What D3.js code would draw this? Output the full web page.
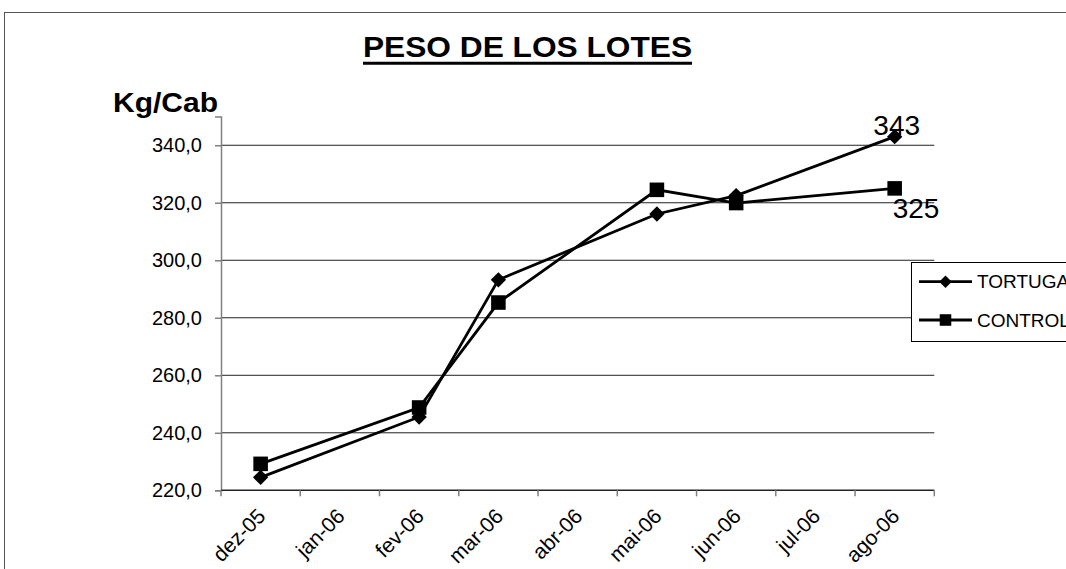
<!DOCTYPE html>
<html>
<head>
<meta charset="utf-8">
<script src="https://cdn.jsdelivr.net/npm/d3@7"></script>
<style>
  body { margin: 0; background: #fff; }
  svg { display: block; font-family: "Liberation Sans", Arial, sans-serif; }
</style>
</head>
<body>
<div id="chart"></div>
<script>
// months on the category axis
var months = ["dez-05", "jan-06", "fev-06", "mar-06", "abr-06", "mai-06", "jun-06", "jul-06", "ago-06"];
// months where the lots were weighed
var weighMonths = ["dez-05", "fev-06", "mar-06", "mai-06", "jun-06", "ago-06"];
var tortuga = [224.5, 245.5, 293.2, 316.1, 322.5, 343];
var control = [229.2, 248.8, 285.3, 324.5, 319.9, 325];
var seriesNames = ["TORTUGA", "CONTROL"];
var yTicks = [220, 240, 260, 280, 300, 320, 340];

var width = 1066;
var height = 569;
var plot = { left: 221, right: 934.3, top: 116.5, bottom: 490.3 };

var svg = d3.select('#chart')
    .append('svg')
    .attr('width', width)
    .attr('height', height);

// outer frame (runs off the right and bottom edges)
svg.append('rect')
    .attr('x', 4.5).attr('y', 12.5)
    .attr('width', 1200).attr('height', 700)
    .attr('fill', 'none')
    .attr('stroke', '#555')
    .attr('stroke-width', 1);

var xScale = d3.scaleBand()
    .domain(months)
    .range([plot.left, plot.right])
    .padding(0);

var yScale = d3.scaleLinear()
    .domain([220, 350])
    .range([plot.bottom, plot.top]);

var locale = d3.formatLocale({ decimal: ",", thousands: ".", grouping: [3], currency: ["", ""] });
var fmt = locale.format(".1f");

// gridlines
svg.append('g')
    .selectAll('line')
    .data(yTicks.slice(1))
    .enter().append('line')
    .attr('x1', plot.left).attr('x2', plot.right)
    .attr('y1', function(d) { return yScale(d); })
    .attr('y2', function(d) { return yScale(d); })
    .attr('stroke', '#222')
    .attr('stroke-width', 1);

// y axis
var yAxis = d3.axisLeft(yScale)
    .tickValues(yTicks)
    .tickFormat(fmt)
    .tickSize(6)
    .tickPadding(13);

var gy = svg.append('g')
    .attr('transform', 'translate(' + plot.left + ',0)')
    .call(yAxis);
gy.select('.domain').attr('stroke', '#808080').attr('stroke-width', 1.5);
gy.selectAll('.tick line').attr('stroke', '#808080').attr('stroke-width', 1.5);
gy.selectAll('.tick text')
    .attr('font-size', 20)
    .attr('font-family', '"Liberation Sans", Arial, sans-serif')
    .attr('fill', '#000');

// x axis: ticks at the month boundaries, labels at the centres
var bounds = months.map(function(m) { return xScale(m); }).concat([plot.right]);
var gx = svg.append('g');
gx.append('line')
    .attr('x1', plot.left).attr('x2', plot.right)
    .attr('y1', plot.bottom).attr('y2', plot.bottom)
    .attr('stroke', '#222').attr('stroke-width', 1.5);
gx.selectAll('line.tk')
    .data(bounds)
    .enter().append('line')
    .attr('class', 'tk')
    .attr('x1', function(d) { return d; }).attr('x2', function(d) { return d; })
    .attr('y1', plot.bottom).attr('y2', plot.bottom + 6)
    .attr('stroke', '#808080').attr('stroke-width', 1.5);
gx.selectAll('text')
    .data(months)
    .enter().append('text')
    .attr('transform', function(d) {
        var cx = xScale(d) + xScale.bandwidth() / 2;
        return 'translate(' + (cx + 1) + ',' + (plot.bottom + 22) + ') rotate(-45)';
    })
    .attr('text-anchor', 'end')
    .attr('dy', '0.35em')
    .attr('font-size', 21)
    .text(function(d) { return d; });

// title
svg.append('text')
    .attr('x', 527.5)
    .attr('y', 56.7)
    .attr('text-anchor', 'middle')
    .attr('font-size', 30)
    .attr('font-weight', 'bold')
    .attr('textLength', 329)
    .attr('lengthAdjust', 'spacingAndGlyphs')
    .text('PESO DE LOS LOTES');
svg.append('line')
    .attr('x1', 363).attr('x2', 692)
    .attr('y1', 63.3).attr('y2', 63.3)
    .attr('stroke', '#000').attr('stroke-width', 3);

// y axis label
svg.append('text')
    .attr('x', 113)
    .attr('y', 111.7)
    .attr('font-size', 28)
    .attr('font-weight', 'bold')
    .attr('textLength', 105)
    .attr('lengthAdjust', 'spacingAndGlyphs')
    .text('Kg/Cab');

var xPos = function(m) { return xScale(m) + xScale.bandwidth() / 2; };
var line = d3.line()
    .x(function(d) { return xPos(d.m); })
    .y(function(d) { return yScale(d.v); });

var seriesData = [tortuga, control].map(function(vals) {
    return vals.map(function(v, i) { return { m: weighMonths[i], v: v }; });
});

var shapes = [
    d3.symbol().type(d3.symbolDiamond2).size(150),
    d3.symbol().type(d3.symbolSquare2).size(270)
];
var legendShapes = [
    d3.symbol().type(d3.symbolDiamond2).size(100),
    d3.symbol().type(d3.symbolSquare2).size(170)
];

seriesData.forEach(function(data, s) {
    svg.append('path')
        .attr('d', line(data))
        .attr('fill', 'none')
        .attr('stroke', '#000')
        .attr('stroke-width', 2.8);
    svg.append('g')
        .selectAll('path')
        .data(data)
        .enter().append('path')
        .attr('transform', function(d) { return 'translate(' + xPos(d.m) + ',' + yScale(d.v) + ')'; })
        .attr('d', shapes[s])
        .attr('fill', '#000');
});

// end labels
var lastT = seriesData[0][seriesData[0].length - 1];
var lastC = seriesData[1][seriesData[1].length - 1];
svg.append('text')
    .attr('x', xPos(lastT.m) + 2)
    .attr('y', yScale(lastT.v) - 2)
    .attr('text-anchor', 'middle')
    .attr('font-size', 28)
    .text(d3.format('.0f')(lastT.v));
svg.append('text')
    .attr('x', xPos(lastC.m) - 2)
    .attr('y', yScale(lastC.v) + 30)
    .attr('text-anchor', 'start')
    .attr('font-size', 28)
    .text(d3.format('.0f')(lastC.v));

// legend (cut off at the right edge, as in the original)
var legend = svg.append('g');
legend.append('rect')
    .attr('x', 911.5).attr('y', 262.5)
    .attr('width', 300).attr('height', 79)
    .attr('fill', '#fff')
    .attr('stroke', '#000')
    .attr('stroke-width', 1);
seriesNames.forEach(function(name, i) {
    var ly = 281.7 + i * 38.3;
    legend.append('line')
        .attr('x1', 919).attr('x2', 972)
        .attr('y1', ly).attr('y2', ly)
        .attr('stroke', '#000').attr('stroke-width', 2.8);
    legend.append('path')
        .attr('transform', 'translate(945.5,' + ly + ')')
        .attr('d', legendShapes[i])
        .attr('fill', '#000');
    legend.append('text')
        .attr('x', 977)
        .attr('y', ly)
        .attr('dy', '0.35em')
        .attr('font-size', 19)
        .text(name);
});
</script>
</body>
</html>
